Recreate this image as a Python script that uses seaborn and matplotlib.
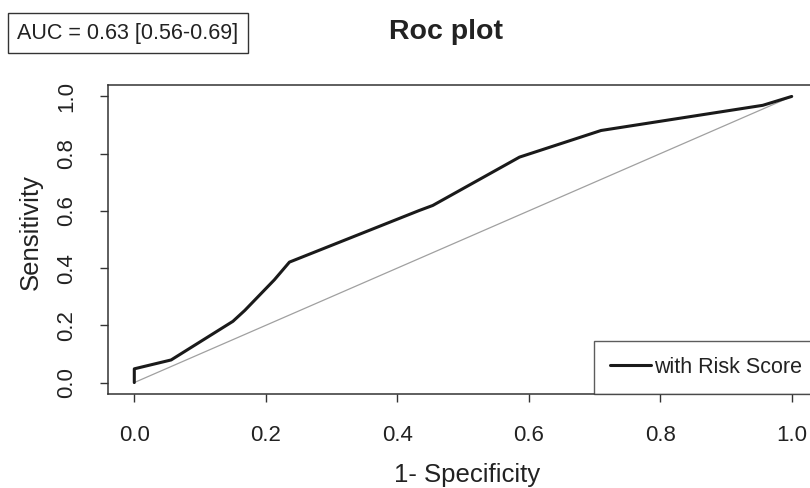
import numpy as np
import pandas as pd
import seaborn as sns
import matplotlib.pyplot as plt

# ROC curve (1-specificity, sensitivity)
fpr = [0.0, 0.0, 0.056, 0.150, 0.168, 0.213, 0.236, 0.433, 0.454, 0.586, 0.710, 0.956, 1.0]
tpr = [0.0, 0.048, 0.079, 0.214, 0.252, 0.359, 0.421, 0.601, 0.619, 0.788, 0.881, 0.969, 1.0]
diag = [0.0, 1.0]
ticks = [0.0, 0.2, 0.4, 0.6, 0.8, 1.0]
tick_labels = ['0.0', '0.2', '0.4', '0.6', '0.8', '1.0']
auc_text = 'AUC = 0.63 [0.56-0.69]'
series_name = 'with Risk Score'

roc = pd.DataFrame({'fpr': fpr, 'tpr': tpr})

sns.set_style('white')
plt.rcParams['font.family'] = ['Liberation Sans', 'DejaVu Sans']
txt = '#222222'

fig = plt.figure(figsize=(8.1, 4.88), dpi=100)
ax = fig.add_axes([108 / 810, 1 - 394 / 488, 710 / 810, 309 / 488])

sns.lineplot(x=diag, y=diag, ax=ax, color='#a0a0a0', linewidth=0.9)
sns.lineplot(data=roc, x='fpr', y='tpr', ax=ax, sort=False, estimator=None,
             color='#1a1a1a', linewidth=2.2, label=series_name)

ax.set_xlim(-0.04, 1.04)
ax.set_ylim(-0.04, 1.04)
ax.set_xticks(ticks)
ax.set_xticklabels(tick_labels)
ax.set_yticks(ticks)
ax.set_yticklabels(tick_labels, rotation=90, va='center')
ax.tick_params(axis='both', direction='out', length=6, width=1, color='#333333',
               labelsize=16, labelcolor=txt, bottom=True, left=True)
ax.tick_params(axis='x', pad=16)
ax.tick_params(axis='y', pad=16)

for s in ax.spines.values():
    s.set_color('#333333')
    s.set_linewidth(1.1)

ax.set_xlabel('1- Specificity', fontsize=18.5, color=txt)
ax.set_ylabel('Sensitivity', fontsize=18.5, color=txt)
ax.xaxis.set_label_coords((467 - 108) / 710, (394 - 475) / 309)
ax.xaxis.label.set_va('center')
ax.yaxis.set_label_coords((31 - 108) / 710, (394 - 232) / 309)
ax.yaxis.label.set_va('center')

leg = ax.legend(loc='lower right', bbox_to_anchor=(1, 0), borderaxespad=0,
                fontsize=15.5, frameon=True, fancybox=False, handlelength=1.9,
                handletextpad=0.15, borderpad=0.75)
leg.get_frame().set_edgecolor('#333333')
leg.get_frame().set_linewidth(1.0)
for t in leg.get_texts():
    t.set_color(txt)

fig.text(446 / 810, 1 - 32 / 488, 'Roc plot', fontsize=20.5, fontweight='bold',
         color=txt, ha='center', va='center')
fig.text(128 / 810, 1 - 33 / 488, auc_text, fontsize=15.5, color=txt,
         ha='center', va='center',
         bbox=dict(boxstyle='square,pad=0.45', facecolor='white',
                   edgecolor='#333333', linewidth=1.0))

fig.savefig('out.png', dpi=100)
